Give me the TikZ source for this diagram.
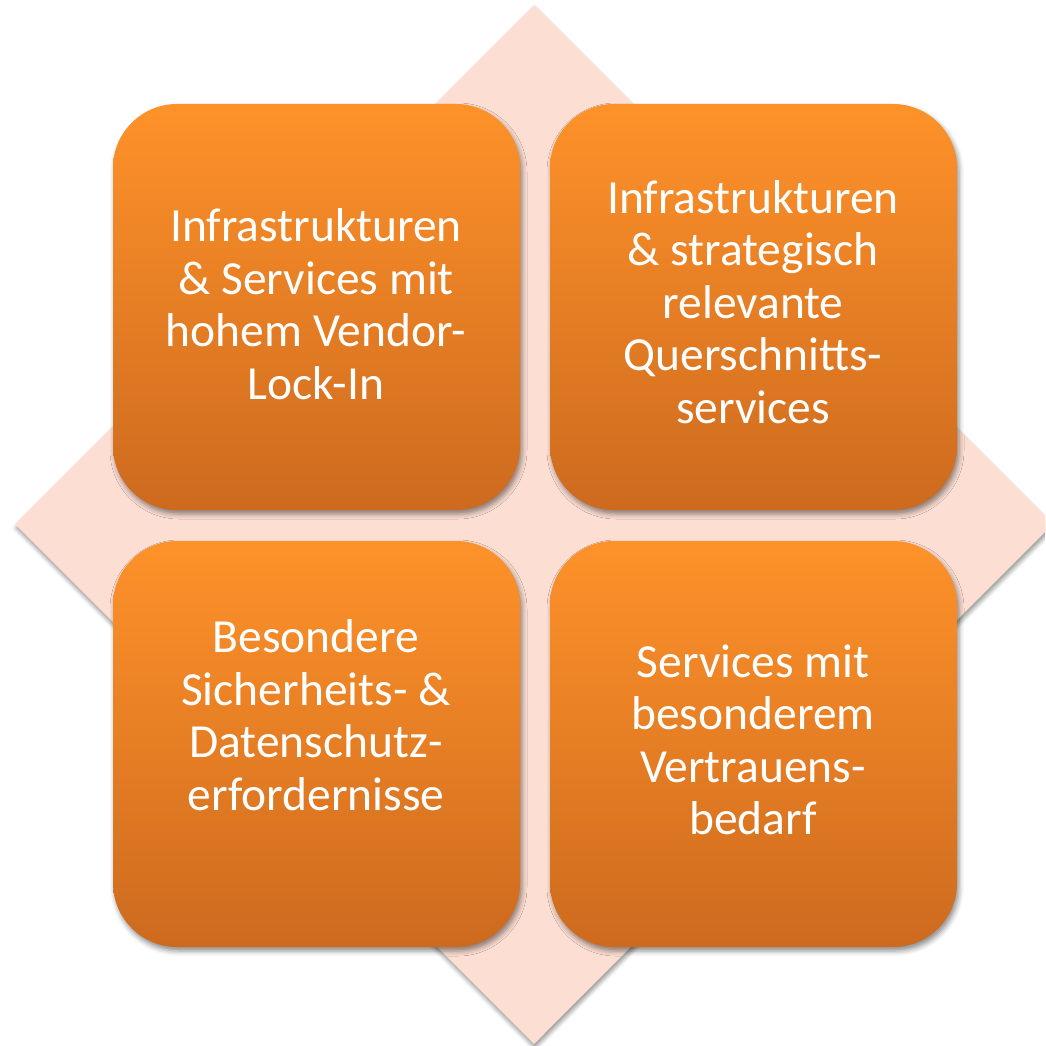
\documentclass[tikz,border=0pt]{standalone}
\usepackage{fontspec}
\setmainfont{Carlito}
\usetikzlibrary{shadows.blur}
\definecolor{diamondfill}{RGB}{252,222,210}
\definecolor{boxtop}{RGB}{254,146,42}
\definecolor{boxbottom}{RGB}{205,106,30}
\tikzset{
  quadbox/.style={draw=none, rounded corners=64pt, top color=boxtop, bottom color=boxbottom,
    blur shadow={shadow xshift=2pt, shadow yshift=-4pt, shadow blur radius=5pt, shadow opacity=45}},
  diamondshape/.style={fill=diamondfill,
    blur shadow={shadow xshift=1pt, shadow yshift=-4pt, shadow blur radius=4pt, shadow opacity=40}},
  quadtext/.style={text=white, align=center, inner sep=0pt,
    font=\fontsize{47.5}{52.5}\selectfont}
}
\begin{document}
\begin{tikzpicture}[x=1pt,y=-1pt]
\useasboundingbox (0,0) rectangle (1045,1046);
\clip (0,0) rectangle (1045,1046);
% diamond background
\coordinate (dt) at (534,5);
\coordinate (dl) at (15,524);
\coordinate (db) at (534,1044);
\coordinate (dr) at (1053,524);
\path[diamondshape] (dt) -- (dr) -- (db) -- (dl) -- cycle;
% boxes
\path[quadbox] (113,104) rectangle (520,510);
\path[quadbox] (550,104) rectangle (957,510);
\path[quadbox] (113,541) rectangle (520,947);
\path[quadbox] (550,541) rectangle (957,947);
% texts
\node[quadtext] (tl) at (316,304) {Infrastrukturen\\\& Services mit\\hohem Vendor-\\Lock-In};
\node[quadtext] (tr) at (753,302) {Infrastrukturen\\\& strategisch\\relevante\\Querschnitts-\\services};
\node[quadtext] (bl) at (316,715) {Besondere\\Sicherheits- \&\\Datenschutz-\\erfordernisse};
\node[quadtext] (br) at (753,740) {Services mit\\besonderem\\Vertrauens-\\bedarf};
\end{tikzpicture}
\end{document}
